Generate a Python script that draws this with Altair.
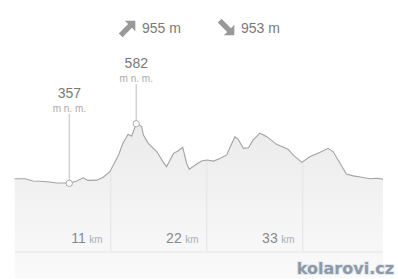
import altair as alt
import pandas as pd
import numpy as np

# Elevation profile (km, m n. m.)
km = [0.0, 1.2, 2.1, 2.9, 4.0, 4.8, 5.8, 6.26, 7.1, 7.86, 8.4, 9.4, 10.15, 10.9,
      11.9, 12.4, 13.0, 13.4, 13.93, 14.55, 14.75, 15.3, 16.3, 17.0, 17.4, 17.8,
      18.2, 18.75, 19.25, 19.7, 20.0, 20.7, 21.4, 22.0, 22.8, 23.5, 24.3, 24.7,
      25.24, 25.6, 26.2, 26.8, 27.3, 28.1, 28.9, 30.0, 30.8, 31.35, 31.9, 32.9,
      33.8, 35.0, 35.9, 36.5, 37.3, 38.0, 38.8, 39.6, 40.7, 41.5, 42.2]
elev = [374, 374, 366, 365, 362, 358, 358, 357, 366, 378, 368, 369, 380, 401,
        464, 508, 542, 535, 582, 571, 539, 508, 476, 438, 420, 445,
        470, 480, 493, 432, 410, 426, 441, 445, 441, 451, 464, 495,
        533, 523, 489, 491, 520, 546, 533, 504, 493, 485, 464, 436,
        457, 474, 489, 476, 432, 392, 385, 381, 374, 376, 373]

ticks = [11, 22, 33]
ascent = "955 m"
descent = "953 m"
extremes_km = [13.93, 6.26]
extremes_elev = [582, 357]
extremes_label = ["582", "357"]

prof = pd.DataFrame({"km": km, "elev": elev})
grid = pd.DataFrame({"km": ticks, "elev": np.interp(ticks, km, elev),
                     "num": [str(t) for t in ticks], "unit": ["km"] * len(ticks)})
ext = pd.DataFrame({"km": extremes_km, "elev": extremes_elev, "label": extremes_label,
                    "kind": ["max", "min"]})
one = pd.DataFrame({"a": [0]})

xs = alt.Scale(domain=[-1.684, 43.92], nice=False, zero=False)
ys = alt.Scale(domain=[-4, 1048.7], nice=False, zero=False)
X = alt.X("km:Q", scale=xs, axis=None)
Y = alt.Y("elev:Q", scale=ys, axis=None)

fill = alt.Gradient(gradient="linear",
                    stops=[alt.GradientStop(color="#ebebeb", offset=0),
                           alt.GradientStop(color="#fafafa", offset=1)],
                    x1=1, x2=1, y1=0, y2=1)

area = alt.Chart(prof).mark_area(color=fill).encode(x=X, y=Y, y2=alt.value(252))
gridr = alt.Chart(grid).mark_rule(color="#e9e9e9", strokeWidth=1.5).encode(
    x=X, y=Y, y2=alt.value(252))
base = alt.Chart(one).mark_rule(color="#ececec", strokeWidth=1.5).encode(
    x=alt.value(15), x2=alt.value(383), y=alt.value(252))
line = alt.Chart(prof).mark_line(color="#a3a3a3", strokeWidth=1.1).encode(x=X, y=Y)

num = alt.Chart(grid).mark_text(align="right", baseline="alphabetic", dx=-25,
                                font="Liberation Sans", fontSize=14, color="#858a90").encode(
    x=X, y=alt.value(243), text="num:N")
unit = alt.Chart(grid).mark_text(align="right", baseline="alphabetic", dx=-8,
                                 font="Liberation Sans", fontSize=10, color="#a8b0bc").encode(
    x=X, y=alt.value(243), text="unit:N")

def ext_layers(kind, ty, uy, ry):
    c = alt.Chart(ext).transform_filter(alt.datum.kind == kind)
    r = c.mark_rule(color="#d2d2d2", strokeWidth=1.5).encode(x=X, y=Y, y2=alt.value(ry))
    t = c.mark_text(align="center", baseline="alphabetic", font="Liberation Sans",
                    fontSize=14, color="#777777").encode(x=X, y=alt.value(ty), text="label:N")
    u = c.mark_text(align="center", baseline="alphabetic", font="Liberation Sans",
                    fontSize=10, color="#aaaaaa").encode(x=X, y=alt.value(uy),
                                                         text=alt.value("m n. m."))
    return [r, t, u]

emax = ext_layers("max", 68, 81.5, 84)
emin = ext_layers("min", 98, 111.5, 114)
epts = alt.Chart(ext).mark_point(filled=True, fill="white", stroke="#aaaaaa",
                                 strokeWidth=1, size=40, opacity=1).encode(x=X, y=Y)

arrow_path = "M0,-1 L0.72,-0.28 L0.26,-0.28 L0.26,1 L-0.26,1 L-0.26,-0.28 L-0.72,-0.28 Z"
arr1 = alt.Chart(one).mark_point(shape=arrow_path, filled=True, color="#999999",
                                 size=430, angle=45, opacity=1).encode(
    x=alt.value(128), y=alt.value(28))
arr2 = alt.Chart(one).mark_point(shape=arrow_path, filled=True, color="#999999",
                                 size=430, angle=135, opacity=1).encode(
    x=alt.value(227), y=alt.value(28))
t1 = alt.Chart(one).mark_text(align="left", baseline="alphabetic", font="Liberation Sans",
                              fontSize=14, color="#7a7a7a").encode(
    x=alt.value(142), y=alt.value(33), text=alt.value(ascent))
t2 = alt.Chart(one).mark_text(align="left", baseline="alphabetic", font="Liberation Sans",
                              fontSize=14, color="#7a7a7a").encode(
    x=alt.value(241), y=alt.value(33), text=alt.value(descent))

wm_sh = alt.Chart(one).mark_text(align="right", baseline="alphabetic", font="DejaVu Sans",
                                 fontWeight="bold", fontSize=16, color="#d8dee5",
                                 stroke="#e2e7ec", strokeWidth=2).encode(
    x=alt.value(394), y=alt.value(274), text=alt.value("kolarovi.cz"))
wm = alt.Chart(one).mark_text(align="right", baseline="alphabetic", font="DejaVu Sans",
                              fontWeight="bold", fontSize=16, color="#8c99a8").encode(
    x=alt.value(394), y=alt.value(274), text=alt.value("kolarovi.cz"))

chart = alt.layer(area, gridr, base, line, num, unit, *emax, *emin, epts,
                  arr1, arr2, t1, t2, wm_sh, wm).properties(
    width=398, height=279, autosize=alt.AutoSizeParams(type="none"), padding=0,
    background="white"
).configure_view(stroke=None)

chart.save("out.html", embed_options={"renderer": "svg", "actions": False})
